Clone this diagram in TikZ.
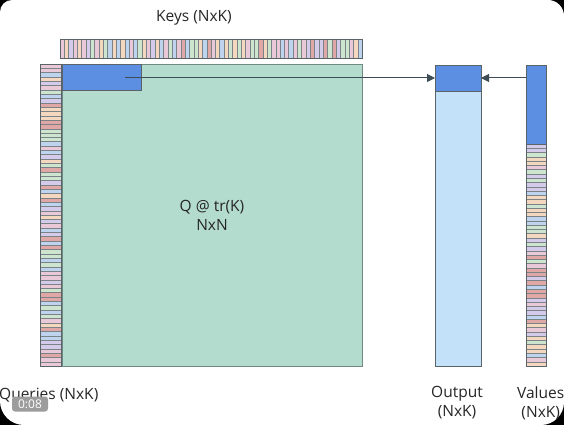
\documentclass[tikz,border=0pt]{standalone}
\usepackage{fontspec}
\setmainfont{Open Sans}
\usetikzlibrary{arrows.meta}
\definecolor{mint}{HTML}{B4DCCE}
\definecolor{mintedge}{HTML}{6E8A82}
\definecolor{qblue}{HTML}{5C8FE2}
\definecolor{lblue}{HTML}{C3E1F8}
\definecolor{edge}{HTML}{5A6468}
\definecolor{arr}{HTML}{3E4C56}
\definecolor{sA}{HTML}{F3D8BF}
\definecolor{sB}{HTML}{CDE5CF}
\definecolor{sC}{HTML}{BDD3EE}
\definecolor{sD}{HTML}{E9C9D8}
\definecolor{sE}{HTML}{DFA7A6}
\definecolor{sF}{HTML}{D3CBE9}
\definecolor{tsgray}{HTML}{9C9C9C}
\begin{document}
\begin{tikzpicture}[x=1pt,y=-1pt,
  box/.style={draw=edge,line width=0.8pt,inner sep=0pt,outer sep=0pt,anchor=north west},
  stripe/.style={draw=edge!80,line width=0.35pt},
  lbl/.style={font=\fontsize{15.5}{19}\selectfont,text=black!85,align=center,inner sep=0pt},
  conn/.style={draw=arr,line width=1pt,-{Triangle[length=8pt,width=8pt]}}]
\useasboundingbox (0,0) rectangle (564,425);
\fill[black] (0,0) rectangle (564,425);
\fill[white] (0,12) arc[start angle=180,end angle=270,radius=12] -- (548,0)
  arc[start angle=270,end angle=360,radius=16] -- (564,402)
  arc[start angle=0,end angle=90,radius=23] -- (24,425)
  arc[start angle=90,end angle=180,radius=24] -- cycle;
\pgfmathsetseed{7}
% keys strip
\foreach \i in {0,...,69}{
  \pgfmathrandominteger{\c}{1}{6}
  \pgfmathsetmacro{\xa}{60+\i*4.314286}
  \pgfmathsetmacro{\xb}{60+(\i+1)*4.314286}
  \ifcase\c\or\def\cc{sA}\or\def\cc{sB}\or\def\cc{sC}\or\def\cc{sD}\or\def\cc{sE}\or\def\cc{sF}\fi
  \filldraw[stripe,fill=\cc] (\xa,39) rectangle (\xb,58);
}
\node[box,minimum width=302pt,minimum height=19pt] (keys) at (60,39) {};
% queries strip
\foreach \i in {0,...,69}{
  \pgfmathrandominteger{\c}{1}{6}
  \pgfmathsetmacro{\ya}{64+\i*4.314286}
  \pgfmathsetmacro{\yb}{64+(\i+1)*4.314286}
  \ifcase\c\or\def\cc{sA}\or\def\cc{sB}\or\def\cc{sC}\or\def\cc{sD}\or\def\cc{sE}\or\def\cc{sF}\fi
  \filldraw[stripe,fill=\cc] (40,\ya) rectangle (61,\yb);
}
\node[box,minimum width=21pt,minimum height=302pt] (queries) at (40,64) {};
% main matrix
\node[box,fill=mint,draw=mintedge,minimum width=300pt,minimum height=302pt] (mat) at (62,64) {};
\node[box,fill=qblue,minimum width=79pt,minimum height=26pt] (qk) at (62,64) {};
% output
\node[box,fill=lblue,minimum width=46pt,minimum height=301pt] (out) at (435,65) {};
\node[box,fill=qblue,minimum width=46pt,minimum height=26pt] (outtop) at (435,65) {};
% values
\foreach \i in {0,...,51}{
  \pgfmathrandominteger{\c}{1}{6}
  \pgfmathsetmacro{\ya}{144+\i*4.269231}
  \pgfmathsetmacro{\yb}{144+(\i+1)*4.269231}
  \ifcase\c\or\def\cc{sA}\or\def\cc{sB}\or\def\cc{sC}\or\def\cc{sD}\or\def\cc{sE}\or\def\cc{sF}\fi
  \filldraw[stripe,fill=\cc] (526,\ya) rectangle (546,\yb);
}
\node[box,fill=none,minimum width=20pt,minimum height=301pt] (vals) at (526,65) {};
\node[box,fill=qblue,minimum width=20pt,minimum height=79pt] (vtop) at (526,65) {};
% connectors
\coordinate (qstart) at (125,78);
\coordinate (vstart) at (526,78);
\draw[conn] (qstart) -- (outtop.west);
\draw[conn] (vstart) -- (outtop.east);
% labels
\node[lbl] (keyslbl) at (194,18) {Keys (NxK)};
\node[lbl] (qlbl) at (212,215) {Q @ tr(K)\\NxN};
\node[lbl,anchor=west] (querieslbl) at (-1,395) {Queries (NxK)};
\node[lbl] (outlbl) at (457,403) {Output\\(NxK)};
\node[lbl,anchor=west] (valslbl) at (517,403) {Values\\(NxK)};
% timestamp overlay
\node[fill=tsgray,rounded corners=3pt,text=white,font=\fontsize{12}{13}\selectfont,
  minimum width=36pt,minimum height=15pt,inner sep=0pt] (ts) at (30,404) {0:08};
\end{tikzpicture}
\end{document}
